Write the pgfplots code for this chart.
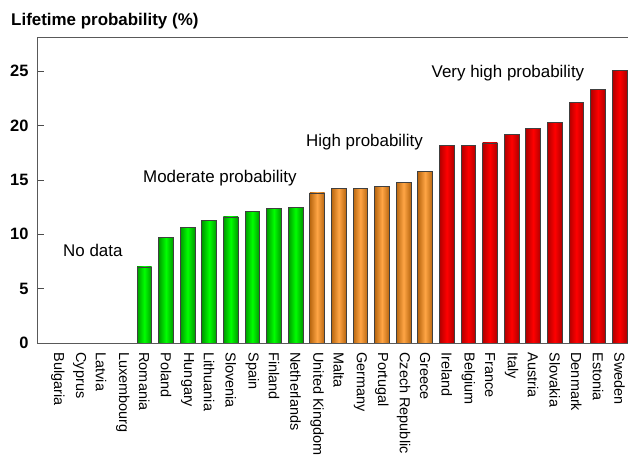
\documentclass[border=0pt]{standalone}
\usepackage{fontspec}
\setmainfont{Liberation Sans}
\usepackage{pgfplots}
\pgfplotsset{compat=1.18}

\definecolor{grnL}{HTML}{00FF00}
\definecolor{grnD}{HTML}{009A00}
\definecolor{orgL}{HTML}{FFA545}
\definecolor{orgD}{HTML}{B8660F}
\definecolor{redL}{HTML}{FF0000}
\definecolor{redD}{HTML}{B00000}

% one \addplot per bar, so that each bar gets its own shading
\pgfplotsset{
  barbase/.style={draw=black!75, line width=0.8bp},
  gbar/.style={barbase, left color=grnD, right color=grnD, middle color=grnL},
  obar/.style={barbase, left color=orgD, right color=orgD, middle color=orgL},
  rbar/.style={barbase, left color=redD, right color=redD, middle color=redL},
}

\begin{document}
\begin{tikzpicture}
  \begin{axis}[
    at={(37bp,116bp)}, anchor=south west,
    scale only axis, width=603.5bp, height=305bp,
    xmin=-0.97, xmax=26.97, ymin=0, ymax=28.06,
    ybar, bar width=14.7bp, bar shift=0pt,
    xtick={0,...,26},
    xticklabels={Bulgaria, Cyprus, Latvia, Luxembourg, Romania, Poland, Hungary,
      Lithuania, Slovenia, Spain, Finland, Netherlands, United Kingdom, Malta,
      Germany, Portugal, Czech Republic, Greece, Ireland, Belgium, France, Italy,
      Austria, Slovakia, Denmark, Estonia, Sweden},
    major x tick style={draw=none},
    ytick={0,5,...,25},
    tick align=inside, major tick length=6.5bp,
    ytick pos=left, xtick pos=bottom,
    y tick style={gray!60!black, line width=0.8bp},
    /pgf/number format/assume math mode=true,
    yticklabel style={font=\fontsize{16.5}{18}\selectfont\bfseries, xshift=-5bp},
    xticklabel style={font=\fontsize{14.5}{16}\selectfont, rotate=-90, anchor=west},
    xticklabel shift=6bp,
    axis line style={gray!70!black, line width=1pt},
  ]
  % moderate probability
  \addplot[gbar] coordinates {(4,7.0)};
  \addplot[gbar] coordinates {(5,9.7)};
  \addplot[gbar] coordinates {(6,10.6)};
  \addplot[gbar] coordinates {(7,11.3)};
  \addplot[gbar] coordinates {(8,11.6)};
  \addplot[gbar] coordinates {(9,12.1)};
  \addplot[gbar] coordinates {(10,12.4)};
  \addplot[gbar] coordinates {(11,12.5)};
  % high probability
  \addplot[obar] coordinates {(12,13.8)};
  \addplot[obar] coordinates {(13,14.2)};
  \addplot[obar] coordinates {(14,14.2)};
  \addplot[obar] coordinates {(15,14.4)};
  \addplot[obar] coordinates {(16,14.8)};
  \addplot[obar] coordinates {(17,15.8)};
  % very high probability
  \addplot[rbar] coordinates {(18,18.2)};
  \addplot[rbar] coordinates {(19,18.2)};
  \addplot[rbar] coordinates {(20,18.4)};
  \addplot[rbar] coordinates {(21,19.2)};
  \addplot[rbar] coordinates {(22,19.7)};
  \addplot[rbar] coordinates {(23,20.3)};
  \addplot[rbar] coordinates {(24,22.1)};
  \addplot[rbar] coordinates {(25,23.3)};
  \addplot[rbar] coordinates {(26,25.1)};
  \end{axis}

  \node[anchor=base west, inner sep=0pt, font=\fontsize{17}{19}\selectfont\bfseries]
    at (11bp,433bp) {Lifetime probability (\%)};
  \begin{scope}[every node/.style={anchor=base west, inner sep=0pt, font=\fontsize{17}{19}\selectfont}]
    \node at (63bp,202bp) {No data};
    \node at (143bp,276.5bp) {Moderate probability};
    \node at (306bp,312.5bp) {High probability};
    \node at (431.5bp,381.7bp) {Very high probability};
  \end{scope}

  \pgfresetboundingbox
  \path[use as bounding box] (0,0) rectangle (628bp,459bp);
\end{tikzpicture}
\end{document}
